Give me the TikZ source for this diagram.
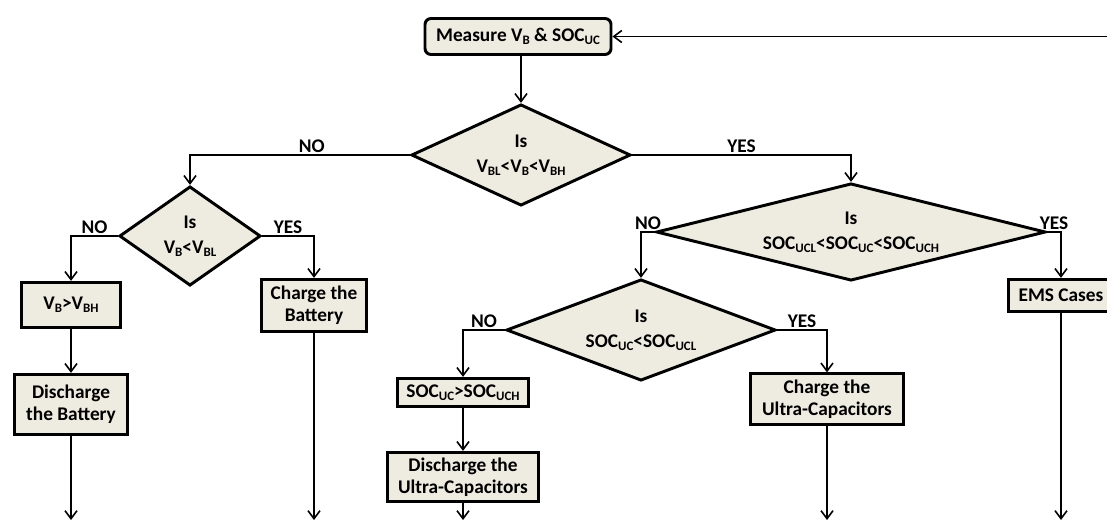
\documentclass[tikz,border=0pt]{standalone}
\usepackage{fontspec}
\setmainfont{Carlito}
\usetikzlibrary{shapes.geometric,arrows.meta}

\definecolor{sfondo}{HTML}{EEECE1}
\newcommand{\pd}[1]{\raisebox{-0.3ex}{\fontsize{9.7}{9.7}\selectfont #1}}

\tikzset{
  blocco/.style={rectangle, draw, fill=sfondo, line width=2.2pt, align=center, inner sep=0pt,
    font=\fontsize{14.5}{16.5}\selectfont\bfseries},
  scelta/.style={diamond, draw, fill=sfondo, line width=2.2pt, align=center, inner sep=0pt,
    font=\fontsize{14.5}{19}\selectfont\bfseries},
  freccia/.style={line width=1.2pt, -{Straight Barb[length=6pt,width=9pt]}},
  etich/.style={above, inner sep=1.5pt, font=\fontsize{14.5}{16}\selectfont\bfseries}
}

\begin{document}
\begin{tikzpicture}[x=0.75pt, y=-0.75pt]
        \useasboundingbox (0,0) rectangle (1107,521);

        % Blocchi
        \node[blocco, rounded corners=4.5pt, minimum width=139.5pt, minimum height=27pt] (meas) at (518,36.5) {Measure V\pd{B} \& SOC\pd{UC}};
        \node[scelta, aspect=2.13, minimum width=164.5pt, minimum height=76pt] (d1) at (521,155) {Is\\V\pd{BL}<V\pd{B}<V\pd{BH}};
        \node[scelta, aspect=1.42, minimum width=106pt, minimum height=74.5pt] (d2) at (190,236) {Is\\V\pd{B}<V\pd{BL}};
        \node[scelta, aspect=4, minimum width=292pt, minimum height=73pt] (d3) at (851,232) {Is\\SOC\pd{UCL}<SOC\pd{UC}<SOC\pd{UCH}};
        \node[scelta, aspect=2.6, minimum width=202pt, minimum height=76pt] (d4) at (641,330) {Is\\SOC\pd{UC}<SOC\pd{UCL}};

        \node[blocco, minimum width=73.75pt, minimum height=34pt] (bvh) at (71,305) {V\pd{B}>V\pd{BH}};
        \node[blocco, minimum width=79pt, minimum height=39.25pt] (bch) at (314,305.5) {Charge the\\Battery};
        \node[blocco, minimum width=85pt, minimum height=45.25pt] (bdis) at (71,404.5) {Discharge\\the Battery};
        \node[blocco, minimum width=97.75pt, minimum height=21.25pt] (socgt) at (463,392.5) {SOC\pd{UC}>SOC\pd{UCH}};
        \node[blocco, minimum width=113.5pt, minimum height=37pt] (ucdis) at (463,477) {Discharge the\\Ultra-Capacitors};
        \node[blocco, minimum width=114.25pt, minimum height=37.75pt] (ucch) at (827,399) {Charge the\\Ultra-Capacitors};
        \node[blocco, minimum width=79pt, minimum height=24.25pt] (ems) at (1061,295.5) {EMS Cases};

        % Punti liberi
        \coordinate (ritorno) at (1110,36.5);
        \coordinate (fondo) at (0,520);

        % Collegamenti
        \draw[freccia] (ritorno) -- (meas.east);
        \draw[freccia] (meas.south -| d1.north) -- (d1.north);
        \draw[freccia] (d1.west) -| (d2.north) node[etich, pos=0.223] {NO};
        \draw[freccia] (d1.east) -| (d3.north) node[etich, pos=0.25] {YES};
        \draw[freccia] (d2.west) -| (bvh.north) node[etich, pos=0.25] {NO};
        \draw[freccia] (d2.east) -| (bch.north) node[etich, pos=0.25] {YES};
        \draw[freccia] (d3.west) -| (d4.north) node[etich, pos=0.25] {NO};
        \draw[freccia] (d3.east) -| (ems.north) node[etich, pos=0.25] {YES};
        \draw[freccia] (d4.west) -| (socgt.north) node[etich, pos=0.25] {NO};
        \draw[freccia] (d4.east) -| (ucch.north) node[etich, pos=0.25] {YES};
        \draw[freccia] (bvh) -- (bdis);
        \draw[freccia] (socgt) -- (ucdis);

        % Uscite in basso
        \foreach \n in {bdis,bch,ucdis,ucch,ems}
            \draw[freccia] (\n.south) -- (\n.south |- fondo);
    \end{tikzpicture}
\end{document}
